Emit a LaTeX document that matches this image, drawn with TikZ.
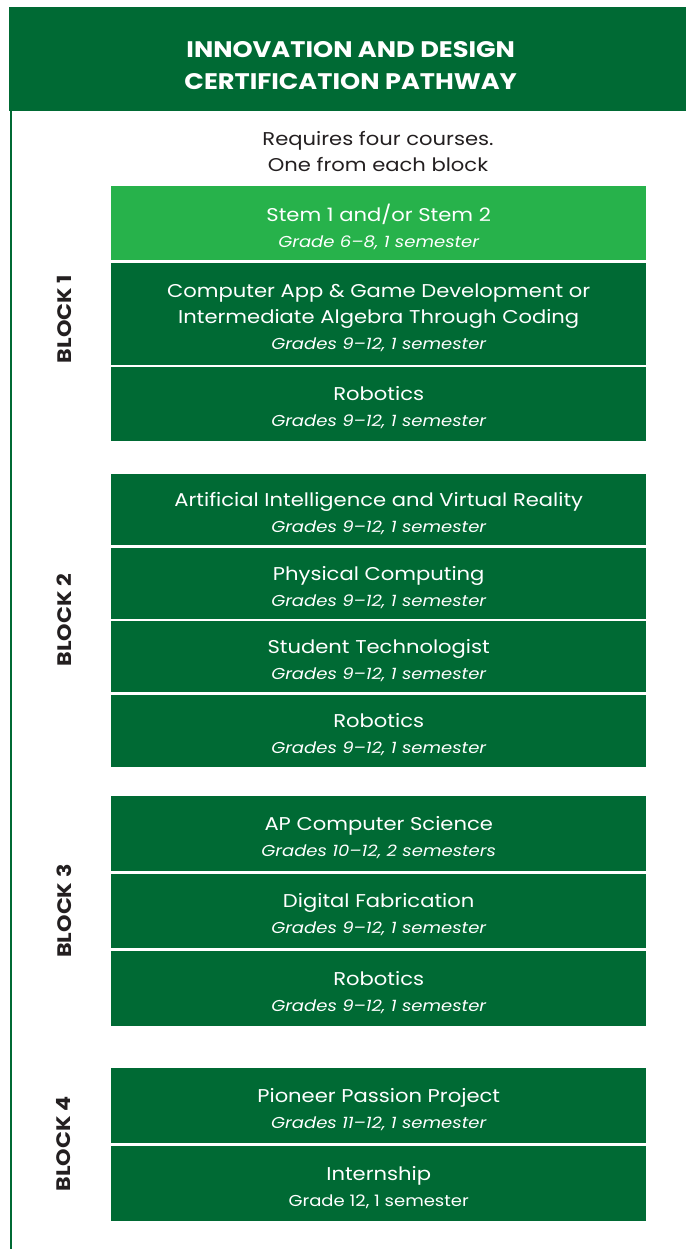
\documentclass[tikz,border=0pt]{standalone}
\usepackage{fontspec}
\setmainfont{Poppins}[FakeStretch=1.14]
\definecolor{dkgreen}{RGB}{0,106,52}
\definecolor{ltgreen}{RGB}{39,178,75}
\definecolor{txtdark}{RGB}{35,31,32}
\newcommand{\ctitle}{\fontsize{18.5}{26}\selectfont}
\newcommand{\csub}{\fontsize{15.8}{26}\selectfont\itshape}
\tikzset{
  coursebox/.style={fill=dkgreen, minimum width=535pt, inner sep=0pt, anchor=north west},
  coursetext/.style={text=white, inner sep=0pt, align=center, font=\ctitle},
  blocklabel/.style={rotate=90, text=txtdark, font=\fontsize{19.5}{20}\selectfont\bfseries, inner sep=0pt}
}
\newcommand{\course}[5]{%
  \node[coursebox, fill=#4, minimum height=#3pt] (#1) at (111,#2) {};
  \node[coursetext] (#1t) at ([yshift=-3.5pt]#1.center) {#5};}
\begin{document}
\begin{tikzpicture}[x=1pt,y=-1pt]
\useasboundingbox (0,0) rectangle (686,1249);
\fill[white] (0,0) rectangle (686,1249);
% header
\node[fill=dkgreen, minimum width=677pt, minimum height=104pt, inner sep=0pt,
  anchor=north west] (header) at (9,7) {};
\node[text=white, align=center, inner sep=0pt, font=\fontsize{22.5}{32}\selectfont\bfseries]
  (headertext) at ([xshift=3pt,yshift=-6pt]header.center)
  {INNOVATION AND DESIGN\\CERTIFICATION PATHWAY};
\coordinate (lineTop) at (10.5,111);
\coordinate (lineBot) at (10.5,1249);
\draw[dkgreen, line width=2pt] (lineTop) -- (lineBot);
% intro
\node[text=txtdark, align=center, font=\fontsize{18.5}{26}\selectfont, inner sep=0pt] (intro) at (378,152)
  {Requires four courses.\\One from each block};
% block 1
\course{b1a}{186}{74}{ltgreen}{Stem 1 and/or Stem 2\\{\csub Grade 6--8, 1 semester}}
\course{b1b}{263}{102}{dkgreen}{Computer App \& Game Development or\\Intermediate Algebra Through Coding\\{\csub Grades 9--12, 1 semester}}
\course{b1c}{367}{74}{dkgreen}{Robotics\\{\csub Grades 9--12, 1 semester}}
% block 2
\course{b2a}{474}{71}{dkgreen}{Artificial Intelligence and Virtual Reality\\{\csub Grades 9--12, 1 semester}}
\course{b2b}{548}{71}{dkgreen}{Physical Computing\\{\csub Grades 9--12, 1 semester}}
\course{b2c}{621}{71}{dkgreen}{Student Technologist\\{\csub Grades 9--12, 1 semester}}
\course{b2d}{695}{72}{dkgreen}{Robotics\\{\csub Grades 9--12, 1 semester}}
% block 3
\course{b3a}{796}{75}{dkgreen}{AP Computer Science\\{\csub Grades 10--12, 2 semesters}}
\course{b3b}{874}{74}{dkgreen}{Digital Fabrication\\{\csub Grades 9--12, 1 semester}}
\course{b3c}{951}{75}{dkgreen}{Robotics\\{\csub Grades 9--12, 1 semester}}
% block 4
\course{b4a}{1068}{75}{dkgreen}{Pioneer Passion Project\\{\csub Grades 11--12, 1 semester}}
\course{b4b}{1146}{75}{dkgreen}{Internship\\{\fontsize{15.8}{26}\selectfont Grade 12, 1 semester}}
% block labels
\node[blocklabel] (L1) at (64,319) {BLOCK 1};
\node[blocklabel] (L2) at (64,620) {BLOCK 2};
\node[blocklabel] (L3) at (64,911) {BLOCK 3};
\node[blocklabel] (L4) at (64,1144) {BLOCK 4};
\end{tikzpicture}
\end{document}
